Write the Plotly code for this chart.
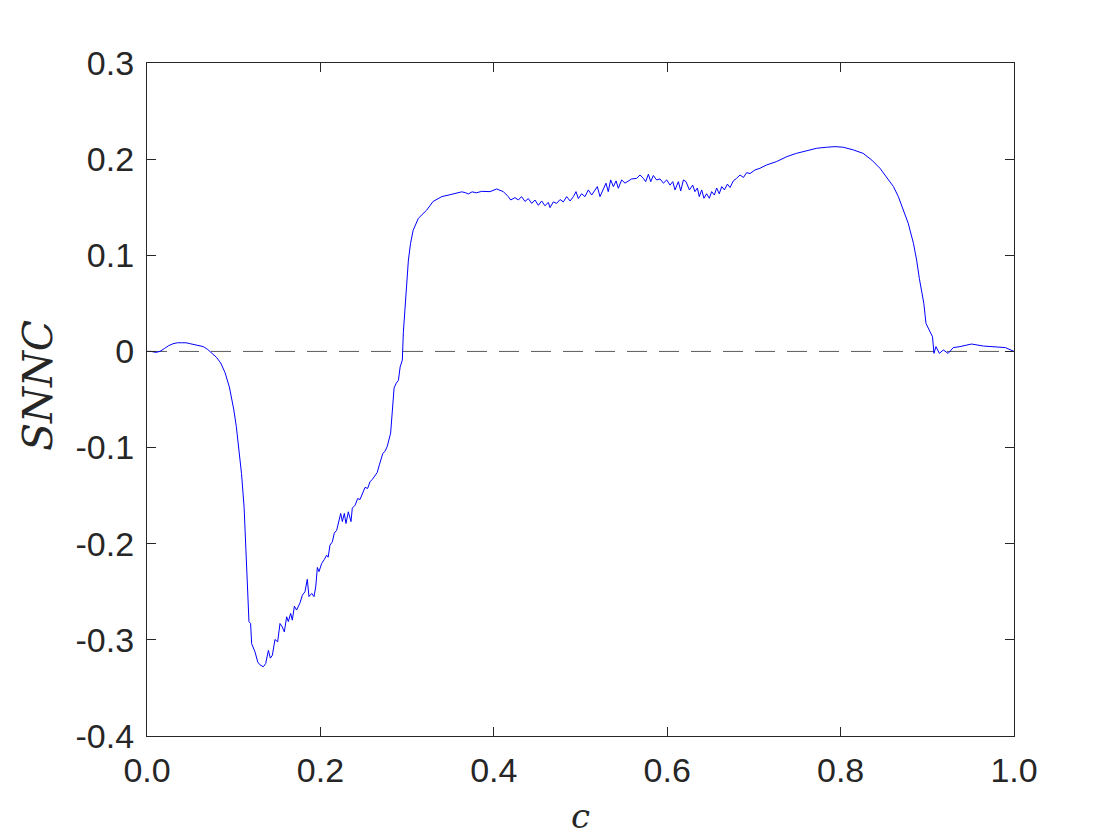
import plotly.graph_objects as go

# ---- data ----
c_vals = [
    0.0, 0.005, 0.01, 0.015, 0.02, 0.025, 0.03, 0.035, 0.04, 0.045, 0.05, 0.055, 0.06, 0.065, 0.07, 0.075,
    0.08, 0.085, 0.09, 0.095, 0.1, 0.103, 0.106, 0.109, 0.112, 0.114, 0.116, 0.1176, 0.1195, 0.1207,
    0.1246, 0.1277, 0.1303, 0.1342, 0.1369, 0.14, 0.1423, 0.1446, 0.1476, 0.1507, 0.1534, 0.156, 0.1584,
    0.1611, 0.163, 0.1657, 0.1676, 0.17, 0.1726, 0.1765, 0.1792, 0.1822, 0.1849, 0.1868, 0.19, 0.1926,
    0.1946, 0.1965, 0.1984, 0.2015, 0.2045, 0.2072, 0.209, 0.211, 0.2138, 0.216, 0.2188, 0.2215, 0.2234,
    0.2253, 0.2276, 0.2295, 0.2322, 0.2353, 0.2368, 0.24, 0.243, 0.2457, 0.2484, 0.2515, 0.2545, 0.2572,
    0.26, 0.263, 0.2655, 0.268, 0.272, 0.2745, 0.277, 0.281, 0.283, 0.285, 0.2875, 0.29, 0.292, 0.2945,
    0.2957, 0.2987, 0.3015, 0.304, 0.307, 0.313, 0.317, 0.3226, 0.33, 0.34, 0.3495, 0.356, 0.363, 0.367,
    0.3706, 0.375, 0.38, 0.386, 0.392, 0.3956, 0.4033, 0.411, 0.4167, 0.4195, 0.4245, 0.4283, 0.432,
    0.436, 0.4398, 0.4437, 0.4475, 0.4514, 0.4552, 0.459, 0.4629, 0.4648, 0.4687, 0.4725, 0.4764, 0.4802,
    0.484, 0.488, 0.4918, 0.4948, 0.4975, 0.5013, 0.5052, 0.509, 0.5129, 0.5167, 0.5194, 0.5225, 0.5263,
    0.5294, 0.532, 0.5348, 0.5379, 0.541, 0.5436, 0.5475, 0.5513, 0.5552, 0.559, 0.5648, 0.5686, 0.5725,
    0.5752, 0.5783, 0.581, 0.584, 0.5878, 0.5917, 0.5956, 0.5994, 0.6033, 0.6064, 0.609, 0.6129, 0.6156,
    0.6187, 0.6217, 0.6256, 0.6294, 0.632, 0.6348, 0.637, 0.6398, 0.6424, 0.6455, 0.6486, 0.6513, 0.6544,
    0.657, 0.66, 0.6629, 0.666, 0.6694, 0.6725, 0.6763, 0.68, 0.684, 0.6879, 0.6917, 0.6955, 0.7013,
    0.707, 0.7148, 0.726, 0.738, 0.749, 0.761, 0.7724, 0.784, 0.7935, 0.803, 0.8147, 0.826, 0.836,
    0.8454, 0.853, 0.861, 0.8666, 0.8723, 0.878, 0.884, 0.8877, 0.8908, 0.8935, 0.896, 0.8985, 0.903,
    0.906, 0.9077, 0.91, 0.9139, 0.9185, 0.924, 0.93, 0.9377, 0.951, 0.9646, 0.98, 0.99, 1.0,
]
snnc_vals = [
    0.0, 0.0, -0.001, 0.0, 0.003, 0.006, 0.008, 0.009, 0.009, 0.009, 0.008, 0.007, 0.006, 0.005, 0.002, -0.002,
    -0.006, -0.012, -0.022, -0.037, -0.06, -0.078, -0.1, -0.127, -0.162, -0.207, -0.252, -0.281, -0.283, -0.304,
    -0.3125, -0.323, -0.326, -0.328, -0.3246, -0.311, -0.319, -0.316, -0.2996, -0.302, -0.283, -0.2865, -0.2917,
    -0.276, -0.281, -0.2725, -0.2795, -0.265, -0.269, -0.2615, -0.2535, -0.25, -0.237, -0.255, -0.2517, -0.255,
    -0.245, -0.2247, -0.229, -0.2205, -0.2164, -0.212, -0.214, -0.2015, -0.198, -0.189, -0.186, -0.177, -0.1685,
    -0.177, -0.1685, -0.179, -0.1668, -0.177, -0.163, -0.16, -0.153, -0.154, -0.1477, -0.1414, -0.1425, -0.1356,
    -0.133, -0.129, -0.126, -0.118, -0.106, -0.104, -0.099, -0.085, -0.061, -0.038, -0.033, -0.03, -0.016, -0.009,
    0.02, 0.06, 0.095, 0.1125, 0.126, 0.1385, 0.142, 0.147, 0.156, 0.161, 0.163, 0.1645, 0.166, 0.1652,
    0.1638, 0.166, 0.165, 0.1665, 0.166, 0.1662, 0.169, 0.1662, 0.161, 0.1575, 0.16, 0.1575, 0.161,
    0.156, 0.159, 0.154, 0.1575, 0.152, 0.1565, 0.1515, 0.155, 0.1496, 0.1555, 0.154, 0.158, 0.1555,
    0.161, 0.1565, 0.161, 0.1662, 0.159, 0.164, 0.161, 0.168, 0.1627, 0.168, 0.1714, 0.161, 0.1697,
    0.175, 0.1662, 0.1784, 0.1714, 0.1774, 0.1697, 0.1784, 0.175, 0.1774, 0.1794, 0.18, 0.1835, 0.18,
    0.1766, 0.1843, 0.1766, 0.183, 0.1784, 0.1794, 0.175, 0.1784, 0.173, 0.1766, 0.168, 0.1766, 0.167,
    0.1784, 0.1766, 0.168, 0.173, 0.1662, 0.17, 0.161, 0.168, 0.1593, 0.164, 0.1593, 0.1662, 0.1627,
    0.17, 0.164, 0.1714, 0.168, 0.174, 0.1705, 0.1774, 0.18, 0.1835, 0.181, 0.186, 0.185, 0.1888,
    0.1905, 0.194, 0.1974, 0.2026, 0.206, 0.2089, 0.2113, 0.2124, 0.213, 0.2124, 0.2096, 0.206, 0.199,
    0.1905, 0.1818, 0.1714, 0.161, 0.147, 0.1333, 0.1125, 0.095, 0.076, 0.06, 0.05, 0.029, 0.0205,
    0.0153, -0.002, 0.005, -0.002, 0.0015, -0.002, 0.004, 0.005, 0.0077, 0.0056, 0.005, 0.004, 0.0,
]

zero_x = [0.0, 1.0]
zero_y = [0.0, 0.0]

x_tick_vals = [0.0, 0.2, 0.4, 0.6, 0.8, 1.0]
x_tick_text = ["0.0", "0.2", "0.4", "0.6", "0.8", "1.0"]
y_tick_vals = [-0.4, -0.3, -0.2, -0.1, 0.0, 0.1, 0.2, 0.3]
y_tick_text = ["-0.4", "-0.3", "-0.2", "-0.1", "0", "0.1", "0.2", "0.3"]

x_label = "c"
y_label = "SNNC"

AX = "#262626"
SERIF = "DejaVu Serif, Liberation Serif, serif"

fig = go.Figure()
fig.add_trace(go.Scatter(x=zero_x, y=zero_y, mode="lines",
                         line=dict(color="#5a5a5a", width=1, dash="20px,12px"),
                         hoverinfo="skip", showlegend=False))
fig.add_trace(go.Scatter(x=c_vals, y=snnc_vals, mode="lines",
                         line=dict(color="#0000ff", width=1),
                         showlegend=False))

axis_common = dict(
    showgrid=False, zeroline=False, showline=True, linecolor=AX, linewidth=1.2,
    mirror="allticks", ticks="inside", ticklen=9, tickwidth=1.2, tickcolor=AX,
    tickfont=dict(family="Liberation Sans, Arial, sans-serif", size=34, color=AX),
)

fig.update_xaxes(range=[0, 1], tickvals=x_tick_vals, ticktext=x_tick_text,
                 ticklabelstandoff=4, **axis_common)
fig.update_yaxes(range=[-0.4, 0.3], tickvals=y_tick_vals, ticktext=y_tick_text,
                 ticklabelstandoff=5, **axis_common)

fig.add_annotation(text="<i>" + x_label + "</i>", xref="paper", yref="paper",
                   x=0.5, y=-0.119, xanchor="center", yanchor="middle", showarrow=False,
                   font=dict(family=SERIF, size=34, color=AX))
fig.add_annotation(text="<i>" + y_label + "</i>", xref="paper", yref="paper",
                   x=-0.1257, y=0.52, xanchor="center", yanchor="middle", showarrow=False,
                   textangle=-90, font=dict(family=SERIF, size=41, color=AX))

fig.update_layout(
    width=1120, height=840,
    margin=dict(l=139, r=114, t=55, b=112),
    plot_bgcolor="white", paper_bgcolor="white",
)

fig.write_html("out.html")
